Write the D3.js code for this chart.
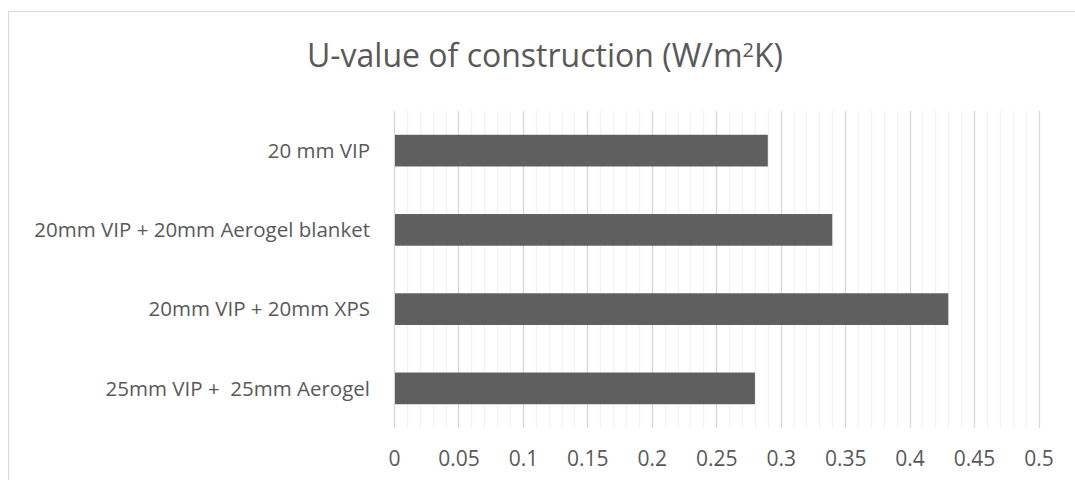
<!DOCTYPE html>
<meta charset="utf-8">
<style>
body { margin: 0; background: #fff; }
text { font-family: "Open Sans", "DejaVu Sans", sans-serif; fill: #595959; }
.grid-minor line { stroke: #f2f2f2; stroke-width: 1.3; }
.grid-major line { stroke: #d9d9d9; stroke-width: 1.3; }
</style>
<svg width="1075" height="480"></svg>
<script src="https://cdnjs.cloudflare.com/ajax/libs/d3/7.8.5/d3.min.js"></script>
<script>

var categories = ["20 mm VIP", "20mm VIP + 20mm Aerogel blanket", "20mm VIP + 20mm XPS", "25mm VIP +  25mm Aerogel"];
var values = [0.29, 0.34, 0.43, 0.28];
var majorTicks = [0, 0.05, 0.1, 0.15, 0.2, 0.25, 0.3, 0.35, 0.4, 0.45, 0.5];
var minorTicks = d3.range(0, 51).map(function(i) { return i / 100; });

var svg = d3.select("svg");

// chart frame (runs past the right/bottom edge like the source)
svg.append("rect")
    .attr("x", 8.5).attr("y", 11.5)
    .attr("width", 1080).attr("height", 480)
    .attr("fill", "none")
    .attr("stroke", "#d9d9d9");

var plotLeft = 394, plotRight = 1038.5, plotTop = 111, plotBottom = 428;

var x = d3.scaleLinear().domain([0, 0.5]).range([plotLeft, plotRight]);
var y = d3.scaleBand().domain(categories).range([plotTop, plotBottom]).paddingInner(0.6).paddingOuter(0.3);

svg.append("g").attr("class", "grid-minor")
  .selectAll("line").data(minorTicks.filter(function(d, i) { return i % 5; }))
  .enter().append("line")
    .attr("x1", function(d) { return Math.round(x(d)) + 0.5; })
    .attr("x2", function(d) { return Math.round(x(d)) + 0.5; })
    .attr("y1", plotTop).attr("y2", plotBottom);

svg.append("g").attr("class", "grid-major")
  .selectAll("line").data(majorTicks)
  .enter().append("line")
    .attr("x1", function(d) { return Math.round(x(d)) + 0.5; })
    .attr("x2", function(d) { return Math.round(x(d)) + 0.5; })
    .attr("y1", plotTop).attr("y2", plotBottom);

svg.append("g")
  .selectAll("rect").data(values)
  .enter().append("rect")
    .attr("x", x(0) + 1)
    .attr("y", function(d, i) { return y(categories[i]); })
    .attr("width", function(d) { return x(d) - x(0) - 1; })
    .attr("height", y.bandwidth())
    .attr("fill", "#5f5f5f");

svg.append("g")
  .selectAll("text").data(categories)
  .enter().append("text")
    .attr("x", 370)
    .attr("y", function(d) { return y(d) + y.bandwidth() / 2; })
    .attr("dy", "0.35em")
    .attr("text-anchor", "end")
    .style("font-size", "20.5px")
    .style("white-space", "pre")
    .text(function(d) { return d; });

var xAxis = svg.append("g")
    .attr("transform", "translate(0," + plotBottom + ")")
    .call(d3.axisBottom(x).tickValues(majorTicks).tickSize(0).tickPadding(0)
      .tickFormat(function(d) { return String(+d.toFixed(2)); }));
xAxis.select(".domain").remove();
xAxis.selectAll("text")
    .attr("y", 38)
    .attr("dy", null)
    .style("font-size", "21px")
    .attr("fill", "#595959");

var title = svg.append("text")
    .attr("x", 545)
    .attr("y", 67)
    .attr("text-anchor", "middle")
    .style("font-size", "32px");
title.append("tspan").text("U-value of construction (W/m");
title.append("tspan").attr("dy", -10).style("font-size", "20px").text("2");
title.append("tspan").attr("dy", 10).text("K)");

</script>
